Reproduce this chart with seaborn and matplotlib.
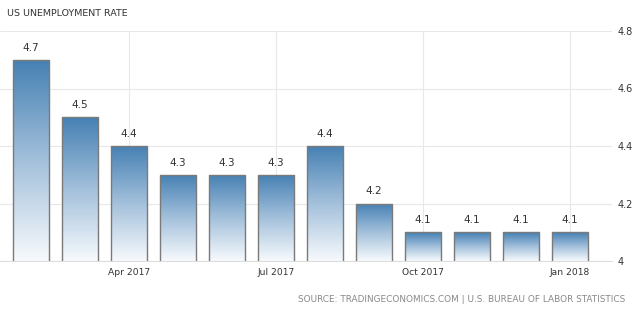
import numpy as np
import pandas as pd
import matplotlib
matplotlib.use("Agg")
import matplotlib.pyplot as plt
import seaborn as sns
from matplotlib.colors import LinearSegmentedColormap

months = ["Feb 2017", "Mar 2017", "Apr 2017", "May 2017", "Jun 2017", "Jul 2017",
          "Aug 2017", "Sep 2017", "Oct 2017", "Nov 2017", "Dec 2017", "Jan 2018"]
rates = [4.7, 4.5, 4.4, 4.3, 4.3, 4.3, 4.4, 4.2, 4.1, 4.1, 4.1, 4.1]
tick_idx = [2, 5, 8, 11]
tick_labels = ["Apr 2017", "Jul 2017", "Oct 2017", "Jan 2018"]
y_ticks = [4.0, 4.2, 4.4, 4.6, 4.8]
y_tick_labels = ["4", "4.2", "4.4", "4.6", "4.8"]

df = pd.DataFrame({"month": months, "rate": rates})

sns.set_style("white")
plt.rcParams['font.family'] = ['DejaVu Sans']

fig = plt.figure(figsize=(6.36, 3.11), dpi=100)
W, H = 636, 311
ax = fig.add_axes([0 / W, (H - 261) / H, 612 / W, (261 - 31) / H])

sns.barplot(data=df, x="month", y="rate", ax=ax, color="#4a82b4",
            width=0.74, edgecolor="#7a7a7a", linewidth=1.0, zorder=3)

ax.set_ylim(4.0, 4.8)
ax.set_xlim(-0.63, 11.86)

cmap = LinearSegmentedColormap.from_list("g", ["#f7fafd", "#a3c0db", "#4580b3"])
grad = np.linspace(0, 1, 256).reshape(-1, 1)
for p, v in zip(ax.patches, rates):
    x0, w = p.get_x(), p.get_width()
    y0 = 4.0
    p.set_facecolor("none")
    im = ax.imshow(grad, cmap=cmap, aspect="auto", origin="lower",
                   extent=[x0, x0 + w, y0, v], zorder=2)
    im.set_clip_path(p)
    ax.text(x0 + w / 2, v + 0.025, f"{v:.1f}", ha="center", va="bottom",
            fontsize=7.5, color="#333333", zorder=4)

ax.set_xticks(tick_idx)
ax.set_xticklabels(tick_labels, fontsize=6.6, color="#333333")
ax.yaxis.tick_right()
ax.set_yticks(y_ticks)
ax.set_yticklabels(y_tick_labels, fontsize=7, color="#333333")
ax.tick_params(axis="y", length=0, pad=4)
ax.tick_params(axis="x", length=3, color="#dddddd", pad=2)
ax.set_xlabel("")
ax.set_ylabel("")
ax.grid(True, color="#e8e8e8", linewidth=0.8, zorder=0)
ax.set_axisbelow(True)
for s in ["top", "left", "right"]:
    ax.spines[s].set_visible(False)
ax.spines["bottom"].set_color("#dddddd")
ax.spines["bottom"].set_linewidth(0.8)

fig.text(7 / W, 1 - 13 / H, "US UNEMPLOYMENT RATE", fontsize=6.8, color="#333333",
         ha="left", va="center")
fig.text(625 / W, 1 - 300 / H,
         "SOURCE: TRADINGECONOMICS.COM | U.S. BUREAU OF LABOR STATISTICS",
         fontsize=6.4, color="#888888", ha="right", va="center")

fig.savefig("out.png", dpi=100)
